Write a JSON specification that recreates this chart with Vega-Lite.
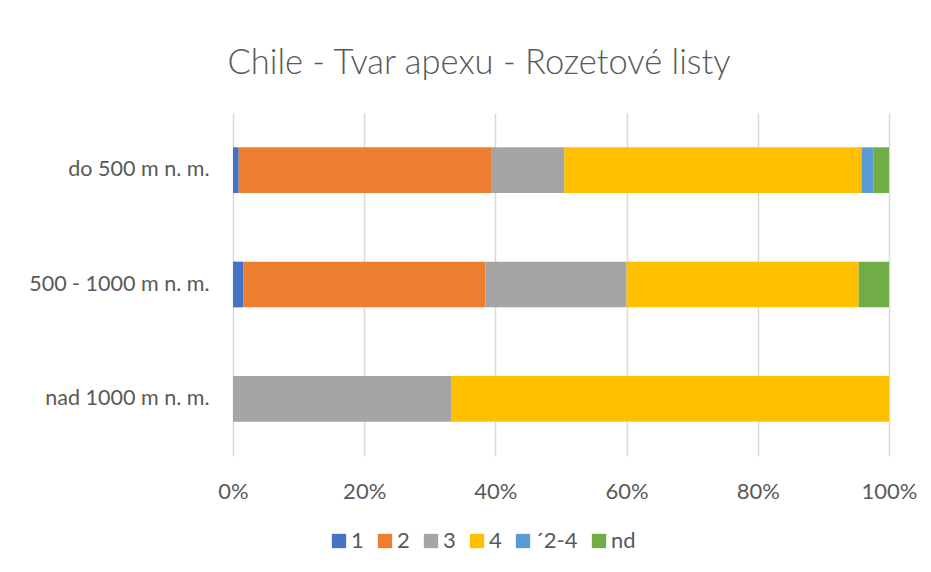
{
  "$schema": "https://vega.github.io/schema/vega-lite/v6.json",
  "width": 656,
  "height": 343,
  "autosize": {"type": "none"},
  "padding": {"left": 233, "top": 113, "right": 42, "bottom": 116},
  "background": "white",
  "title": {
    "text": "Chile - Tvar apexu - Rozetové listy",
    "font": "Lato",
    "fontSize": 34.5,
    "fontWeight": 300,
    "color": "#595959",
    "anchor": "middle",
    "frame": "group",
    "dx": -82,
    "offset": 32
  },
  "config": {
    "view": {"stroke": null},
    "font": "Lato"
  },
  "data": {
    "values": [
      {"alt": "do 500 m n. m.", "typ": "1", "k": 1, "pct": 0.87},
      {"alt": "do 500 m n. m.", "typ": "2", "k": 2, "pct": 38.58},
      {"alt": "do 500 m n. m.", "typ": "3", "k": 3, "pct": 11.05},
      {"alt": "do 500 m n. m.", "typ": "4", "k": 4, "pct": 45.3},
      {"alt": "do 500 m n. m.", "typ": "´2-4", "k": 5, "pct": 1.8},
      {"alt": "do 500 m n. m.", "typ": "nd", "k": 6, "pct": 2.4},
      {"alt": "500 - 1000 m n. m.", "typ": "1", "k": 1, "pct": 1.54},
      {"alt": "500 - 1000 m n. m.", "typ": "2", "k": 2, "pct": 36.92},
      {"alt": "500 - 1000 m n. m.", "typ": "3", "k": 3, "pct": 21.54},
      {"alt": "500 - 1000 m n. m.", "typ": "4", "k": 4, "pct": 35.38},
      {"alt": "500 - 1000 m n. m.", "typ": "nd", "k": 6, "pct": 4.62},
      {"alt": "nad 1000 m n. m.", "typ": "3", "k": 3, "pct": 33.33},
      {"alt": "nad 1000 m n. m.", "typ": "4", "k": 4, "pct": 66.67}
    ]
  },
  "mark": {"type": "bar"},
  "encoding": {
    "y": {
      "field": "alt",
      "type": "nominal",
      "sort": ["do 500 m n. m.", "500 - 1000 m n. m.", "nad 1000 m n. m."],
      "scale": {"paddingInner": 0.6, "paddingOuter": 0.3},
      "axis": {
        "title": null,
        "domain": false,
        "ticks": false,
        "labelFont": "Lato",
        "labelFontSize": 21.5,
        "labelColor": "#595959",
        "labelPadding": 24,
        "labelLimit": 300
      }
    },
    "x": {
      "field": "pct",
      "type": "quantitative",
      "stack": "normalize",
      "scale": {"domain": [0, 1], "nice": false},
      "axis": {
        "title": null,
        "format": ".0%",
        "values": [0, 0.2, 0.4, 0.6, 0.8, 1],
        "domain": false,
        "ticks": false,
        "grid": true,
        "gridColor": "#d9d9d9",
        "gridWidth": 1.5,
        "labelFont": "Lato",
        "labelFontSize": 22,
        "labelColor": "#595959",
        "labelPadding": 25,
        "labelFlush": false
      }
    },
    "color": {
      "field": "typ",
      "type": "nominal",
      "scale": {
        "domain": ["1", "2", "3", "4", "´2-4", "nd"],
        "range": ["#4472C4", "#ED7D31", "#A5A5A5", "#FFC000", "#5B9BD5", "#70AD47"]
      },
      "legend": {
        "title": null,
        "orient": "none",
        "direction": "horizontal",
        "legendX": 95,
        "legendY": 417,
        "symbolType": "square",
        "symbolSize": 205,
        "symbolStrokeWidth": 0,
        "labelFont": "Lato",
        "labelFontSize": 22,
        "labelColor": "#595959",
        "labelOffset": 1,
        "columnPadding": 10
      }
    },
    "order": {"field": "k", "type": "quantitative"}
  }
}
